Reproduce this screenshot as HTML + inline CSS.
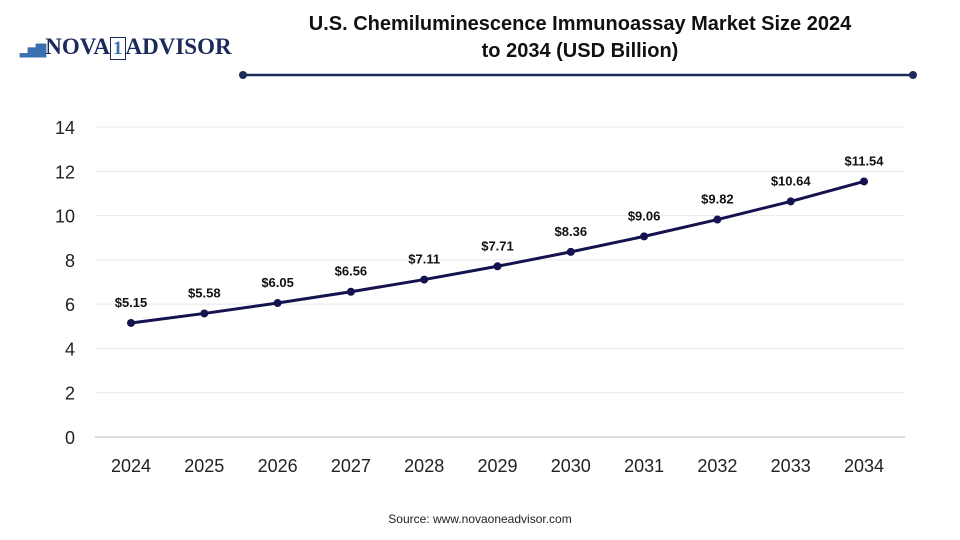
<!DOCTYPE html>
<html><head><meta charset="utf-8"><style>
body{margin:0;width:960px;height:540px;background:#fff;overflow:hidden;font-family:"Liberation Sans",sans-serif;position:relative}
</style></head><body>
<div style="position:absolute;left:20px;top:34px;font-family:'Liberation Serif',serif;font-weight:bold;font-size:23px;color:#1c2a5a">
<span style="color:#3a6fb0;font-size:13px;letter-spacing:-2px">▂▅▇&nbsp;</span>NOVA<span style="border:1px solid #1c2a5a;color:#3a6fb0;padding:0 2px;font-size:19px">1</span>ADVISOR</div>
<div style="position:absolute;left:250px;top:11px;width:660px;text-align:center;font-weight:bold;font-size:20px;line-height:27px;color:#111">U.S. Chemiluminescence Immunoassay Market Size 2024<br>to 2034 (USD Billion)</div>
<svg width="960" height="540" style="position:absolute;left:0;top:0" id="svg">
<line x1="243" y1="75" x2="913" y2="75" stroke="#1c2a5a" stroke-width="2.5"/>
<circle cx="243" cy="75" r="4" fill="#1c2a5a"/><circle cx="913" cy="75" r="4" fill="#1c2a5a"/>
<g id="grid"></g><g id="marks"></g>
<text x="480" y="523" text-anchor="middle" font-size="12" fill="#222">Source: www.novaoneadvisor.com</text>
</svg>
<script>
const categories=['2024','2025','2026','2027','2028','2029','2030','2031','2032','2033','2034'];
const values=[5.15,5.58,6.05,6.56,7.11,7.71,8.36,9.06,9.82,10.64,11.54];
const labels=['$5.15','$5.58','$6.05','$6.56','$7.11','$7.71','$8.36','$9.06','$9.82','$10.64','$11.54'];
const yTicks=[0,2,4,6,8,10,12,14];
const NS='http://www.w3.org/2000/svg';
const x=i=>131+i*73.3;
const y=v=>437-v*(310/14);
const grid=document.getElementById('grid'),marks=document.getElementById('marks');
function mk(p,tag,a){const e=document.createElementNS(NS,tag);for(const k in a)e.setAttribute(k,a[k]);p.appendChild(e);return e;}
yTicks.forEach(t=>{
 const l=mk(grid,'line',{x1:95,x2:905,y1:y(t),y2:y(t),stroke:t===0?'#bbb':'#e8e8e8','stroke-width':1});
 
 
 const tx=mk(grid,'text',{x:75,y:y(t)+7,'text-anchor':'end','font-size':18,fill:'#222'});tx.textContent=t;
 
 
});
categories.forEach((c,i)=>{
 const tx=mk(grid,'text',{x:x(i),y:472,'text-anchor':'middle','font-size':18,fill:'#222'});tx.textContent=c;
 
 
});
const line=mk(marks,'polyline',{points:values.map((v,i)=>x(i)+','+y(v)).join(' '),fill:'none',stroke:'#14124f','stroke-width':3});


values.forEach((v,i)=>{
 const c=mk(marks,'circle',{cx:x(i),cy:y(v),r:4,fill:'#14124f'});
 
 
 const t=mk(marks,'text',{x:x(i),y:y(v)-16,'text-anchor':'middle','font-size':13,'font-weight':'bold',fill:'#111'});t.textContent=labels[i];
 
 
});
</script>
</body></html>
